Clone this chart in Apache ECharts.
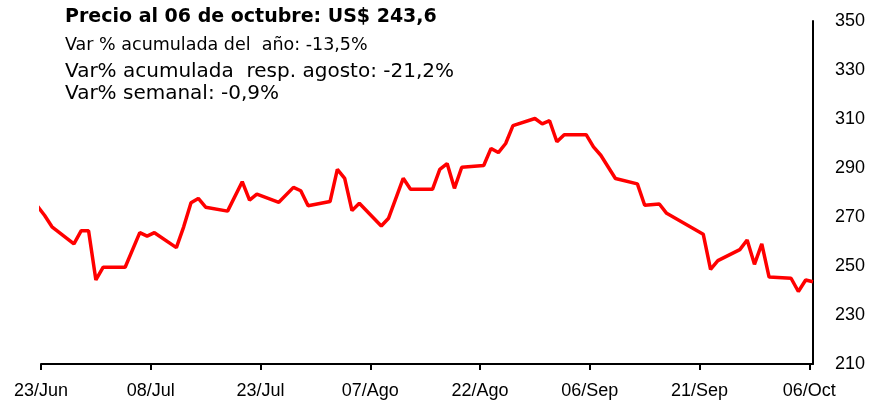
<!DOCTYPE html>
<html><head><meta charset="utf-8">
<script src="https://cdn.jsdelivr.net/npm/echarts@6/dist/echarts.min.js"></script>
<style>html,body{margin:0;padding:0;background:#fff}#c{width:874px;height:410px}</style>
</head><body><div id="c"></div>
<script>
// ---- data ----
const baseDate = '2022-06-23';
const dates = [
 '2022-06-22','2022-06-23','2022-06-24','2022-06-27','2022-06-28','2022-06-29','2022-06-30','2022-07-01',
 '2022-07-04','2022-07-06','2022-07-07','2022-07-08','2022-07-11','2022-07-12','2022-07-13','2022-07-14',
 '2022-07-15','2022-07-18','2022-07-20','2022-07-21','2022-07-22','2022-07-25','2022-07-27','2022-07-28',
 '2022-07-29','2022-08-01','2022-08-02','2022-08-03','2022-08-04','2022-08-05','2022-08-08','2022-08-09',
 '2022-08-11','2022-08-12','2022-08-15','2022-08-16','2022-08-17','2022-08-18','2022-08-19','2022-08-22',
 '2022-08-23','2022-08-24','2022-08-25','2022-08-26','2022-08-29','2022-08-30','2022-08-31','2022-09-01',
 '2022-09-02','2022-09-05','2022-09-06','2022-09-07','2022-09-09','2022-09-12','2022-09-13','2022-09-15',
 '2022-09-16','2022-09-21','2022-09-22','2022-09-23','2022-09-26','2022-09-27','2022-09-28','2022-09-29',
 '2022-09-30','2022-10-03','2022-10-04','2022-10-05','2022-10-06'
];
const prices = [
 274.5,270.6,266.0,259.0,264.4,264.4,244.3,249.5,
 249.5,263.6,262.2,263.6,257.5,266.0,275.8,277.6,
 274.0,272.4,284.4,276.9,279.3,276.0,282.1,280.7,
 274.6,276.3,289.4,285.8,272.6,275.6,266.3,269.5,
 285.8,281.3,281.3,289.4,291.8,281.7,290.3,291.0,
 298.0,296.3,300.0,307.3,310.2,308.0,309.3,300.7,
 303.6,303.6,298.6,295.2,285.7,283.5,274.8,275.3,
 271.5,263.0,248.6,252.2,256.7,260.6,250.7,259.0,
 245.5,245.0,239.6,244.3,243.6
];
const xTickLabels = ['23/Jun','08/Jul','23/Jul','07/Ago','22/Ago','06/Sep','21/Sep','06/Oct'];
const xTickStepDays = 15;
const yMin = 210, yMax = 350, yStep = 20;
const headerLines = [
  'Precio al 06 de octubre: US$ 243,6',
  'Var % acumulada del  año: -13,5%',
  'Var% acumulada  resp. agosto: -21,2%',
  'Var% semanal: -0,9%'
];

// ---- build ----
const DAY = 86400000;
function parseD(s){const p=s.split('-').map(Number);return Date.UTC(p[0],p[1]-1,p[2]);}
const t0 = parseD(baseDate);
// points sit in the middle of their day (date axis style)
const seriesData = dates.map((d,i)=>[(parseD(d)-t0)/DAY + 0.5, prices[i]]);
const tickVals = xTickLabels.map((_,i)=>i*xTickStepDays);
const lastDay = (parseD(dates[dates.length-1])-t0)/DAY + 0.5;

const chart = echarts.init(document.getElementById('c'), null, {renderer:'canvas'});
const FF = '"Liberation Sans", Arial, sans-serif';
const HF = '"DejaVu Sans", sans-serif';
chart.setOption({
  animation:false,
  backgroundColor:'#fff',
  grid:{left:41,right:61,top:21,bottom:46,containLabel:false},
  xAxis:{
    type:'value', min:0, max:lastDay, interval:xTickStepDays,
    axisLine:{show:true,onZero:false,lineStyle:{color:'#000',width:2}},
    axisTick:{show:true,length:6,lineStyle:{color:'#000',width:2},customValues:tickVals},
    axisLabel:{show:true,margin:18,fontSize:18,color:'#000',fontFamily:FF,
      customValues:tickVals,
      formatter:v=>{const k=Math.round(v/xTickStepDays);return Math.abs(v-k*xTickStepDays)<1e-6?(xTickLabels[k]||''):'';}},
    splitLine:{show:false}
  },
  yAxis:{
    type:'value', position:'right', min:yMin, max:yMax, interval:yStep,
    axisLine:{show:true,onZero:false,lineStyle:{color:'#000',width:2}},
    axisTick:{show:false},
    axisLabel:{margin:22,fontSize:18,color:'#000',fontFamily:FF},
    splitLine:{show:false}
  },
  series:[{
    type:'line', data:seriesData, symbol:'none', clip:true,
    lineStyle:{color:'#ff0000',width:3.5}, z:3
  }],
  graphic:[
    {type:'text',x:65,y:17,style:{text:headerLines[0],font:'bold 19px '+HF,fill:'#000',verticalAlign:'middle'}},
    {type:'text',x:65,y:45,style:{text:headerLines[1],font:'17.5px '+HF,fill:'#000',verticalAlign:'middle'}},
    {type:'text',x:65,y:72,style:{text:headerLines[2],font:'20px '+HF,fill:'#000',verticalAlign:'middle'}},
    {type:'text',x:65,y:94,style:{text:headerLines[3],font:'20px '+HF,fill:'#000',verticalAlign:'middle'}}
  ]
});
</script></body></html>
